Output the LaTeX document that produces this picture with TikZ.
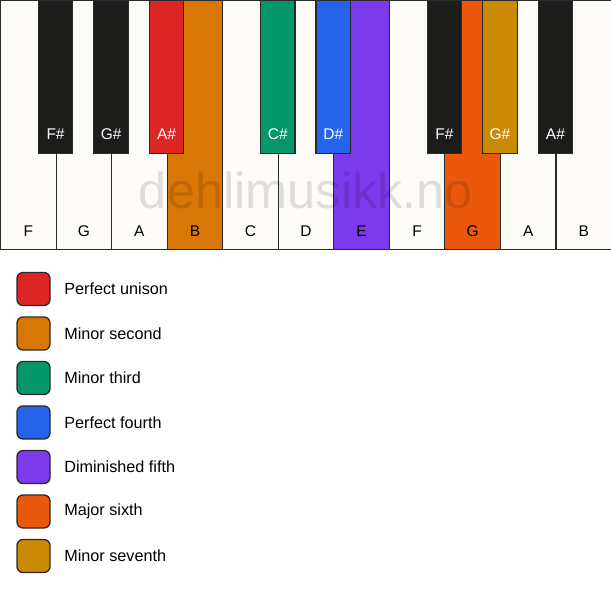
\documentclass[tikz,border=0pt]{standalone}
\usepackage{fontspec}
\setmainfont{Liberation Sans}
\usepackage{xcolor}
\usetikzlibrary{positioning}
\definecolor{ivory}{HTML}{FDFCF9}
\definecolor{ebony}{HTML}{1C1C1A}
\definecolor{keyline}{HTML}{2A2A2A}
\definecolor{unison}{HTML}{DC2626}
\definecolor{minsecond}{HTML}{D97706}
\definecolor{minthird}{HTML}{059669}
\definecolor{perfourth}{HTML}{2563EB}
\definecolor{dimfifth}{HTML}{7C3AED}
\definecolor{majsixth}{HTML}{EA580C}
\definecolor{minseventh}{HTML}{CA8A04}
\tikzset{
    whitekey/.style={draw=keyline, line width=1.1pt, fill=ivory, anchor=north west,
        minimum width=55.545pt, minimum height=249pt, inner sep=0pt},
    blackkey/.style={draw=keyline, line width=1.1pt, fill=ebony, anchor=north,
        minimum width=34.5pt, minimum height=153pt, inner sep=0pt},
    wlabel/.style={font=\fontsize{15.5}{18}\selectfont, text=black},
    blabel/.style={font=\fontsize{15.5}{18}\selectfont, text=white},
    swatch/.style={draw=keyline, line width=1.3pt, rounded corners=6pt,
        minimum size=33pt, inner sep=0pt},
    legtext/.style={font=\fontsize{16.2}{19}\selectfont, anchor=west, inner sep=0pt}
}

\begin{document}
\begin{tikzpicture}[x=1pt, y=-1pt]
\useasboundingbox[fill=white] (0,0) rectangle (611,594);

%%% touches blanches

\node[whitekey] (kF) at (0,0) {};
\node[whitekey] (kG) at (55.545,0) {};
\node[whitekey] (kA) at (111.09,0) {};
\node[whitekey, fill=minsecond] (kB) at (166.636,0) {};
\node[whitekey] (kC) at (222.18,0) {};
\node[whitekey] (kD) at (277.727,0) {};
\node[whitekey, fill=dimfifth] (kE) at (333.27,0) {};
\node[whitekey] (kFF) at (388.818,0) {};
\node[whitekey, fill=majsixth] (kGG) at (444.36,0) {};
\node[whitekey] (kAA) at (499.909,0) {};
\node[whitekey] (kBB) at (555.45,0) {};

% filigrane
\node[font=\fontsize{50.5}{58}\selectfont, text=black, text opacity=0.12] (wm) at (306,190) {dehlimusikk.no};

% noms
\node[wlabel] (lF) at ([yshift=19pt]kF.south) {F};
\node[wlabel] (lG) at ([yshift=19pt]kG.south) {G};
\node[wlabel] (lA) at ([yshift=19pt]kA.south) {A};
\node[wlabel] (lB) at ([yshift=19pt]kB.south) {B};
\node[wlabel] (lC) at ([yshift=19pt]kC.south) {C};
\node[wlabel] (lD) at ([yshift=19pt]kD.south) {D};
\node[wlabel] (lE) at ([yshift=19pt]kE.south) {E};
\node[wlabel] (lFF) at ([yshift=19pt]kFF.south) {F};
\node[wlabel] (lGG) at ([yshift=19pt]kGG.south) {G};
\node[wlabel] (lAA) at ([yshift=19pt]kAA.south) {A};
\node[wlabel] (lBB) at ([yshift=19pt]kBB.south) {B};

%%% touches noires

\node[blackkey] (kFs) at (kG.north west) {};
\node[blackkey] (kGs) at (kA.north west) {};
\node[blackkey, fill=unison] (kAs) at (kB.north west) {};
\node[blackkey, fill=minthird] (kCs) at (kD.north west) {};
\node[blackkey, fill=perfourth] (kDs) at (kE.north west) {};
\node[blackkey] (kFFs) at (kGG.north west) {};
\node[blackkey, fill=minseventh] (kGGs) at (kAA.north west) {};
\node[blackkey] (kAAs) at (kBB.north west) {};

\node[blabel] (lFs) at ([yshift=20pt]kFs.south) {F\#};
\node[blabel] (lGs) at ([yshift=20pt]kGs.south) {G\#};
\node[blabel] (lAs) at ([yshift=20pt]kAs.south) {A\#};
\node[blabel] (lCs) at ([yshift=20pt]kCs.south) {C\#};
\node[blabel] (lDs) at ([yshift=20pt]kDs.south) {D\#};
\node[blabel] (lFFs) at ([yshift=20pt]kFFs.south) {F\#};
\node[blabel] (lGGs) at ([yshift=20pt]kGGs.south) {G\#};
\node[blabel] (lAAs) at ([yshift=20pt]kAAs.south) {A\#};

%%% legende

\node[swatch, fill=unison] (s1) at (33.5,289) {};
\node[swatch, fill=minsecond, below=10.2pt of s1] (s2) {};
\node[swatch, fill=minthird, below=10.2pt of s2] (s3) {};
\node[swatch, fill=perfourth, below=10.2pt of s3] (s4) {};
\node[swatch, fill=dimfifth, below=10.2pt of s4] (s5) {};
\node[swatch, fill=majsixth, below=10.2pt of s5] (s6) {};
\node[swatch, fill=minseventh, below=10.2pt of s6] (s7) {};

\node[legtext, right=13.5pt of s1] (t1) {Perfect unison};
\node[legtext, right=13.5pt of s2] (t2) {Minor second};
\node[legtext, right=13.5pt of s3] (t3) {Minor third};
\node[legtext, right=13.5pt of s4] (t4) {Perfect fourth};
\node[legtext, right=13.5pt of s5] (t5) {Diminished fifth};
\node[legtext, right=13.5pt of s6] (t6) {Major sixth};
\node[legtext, right=13.5pt of s7] (t7) {Minor seventh};
\end{tikzpicture}
\end{document}
